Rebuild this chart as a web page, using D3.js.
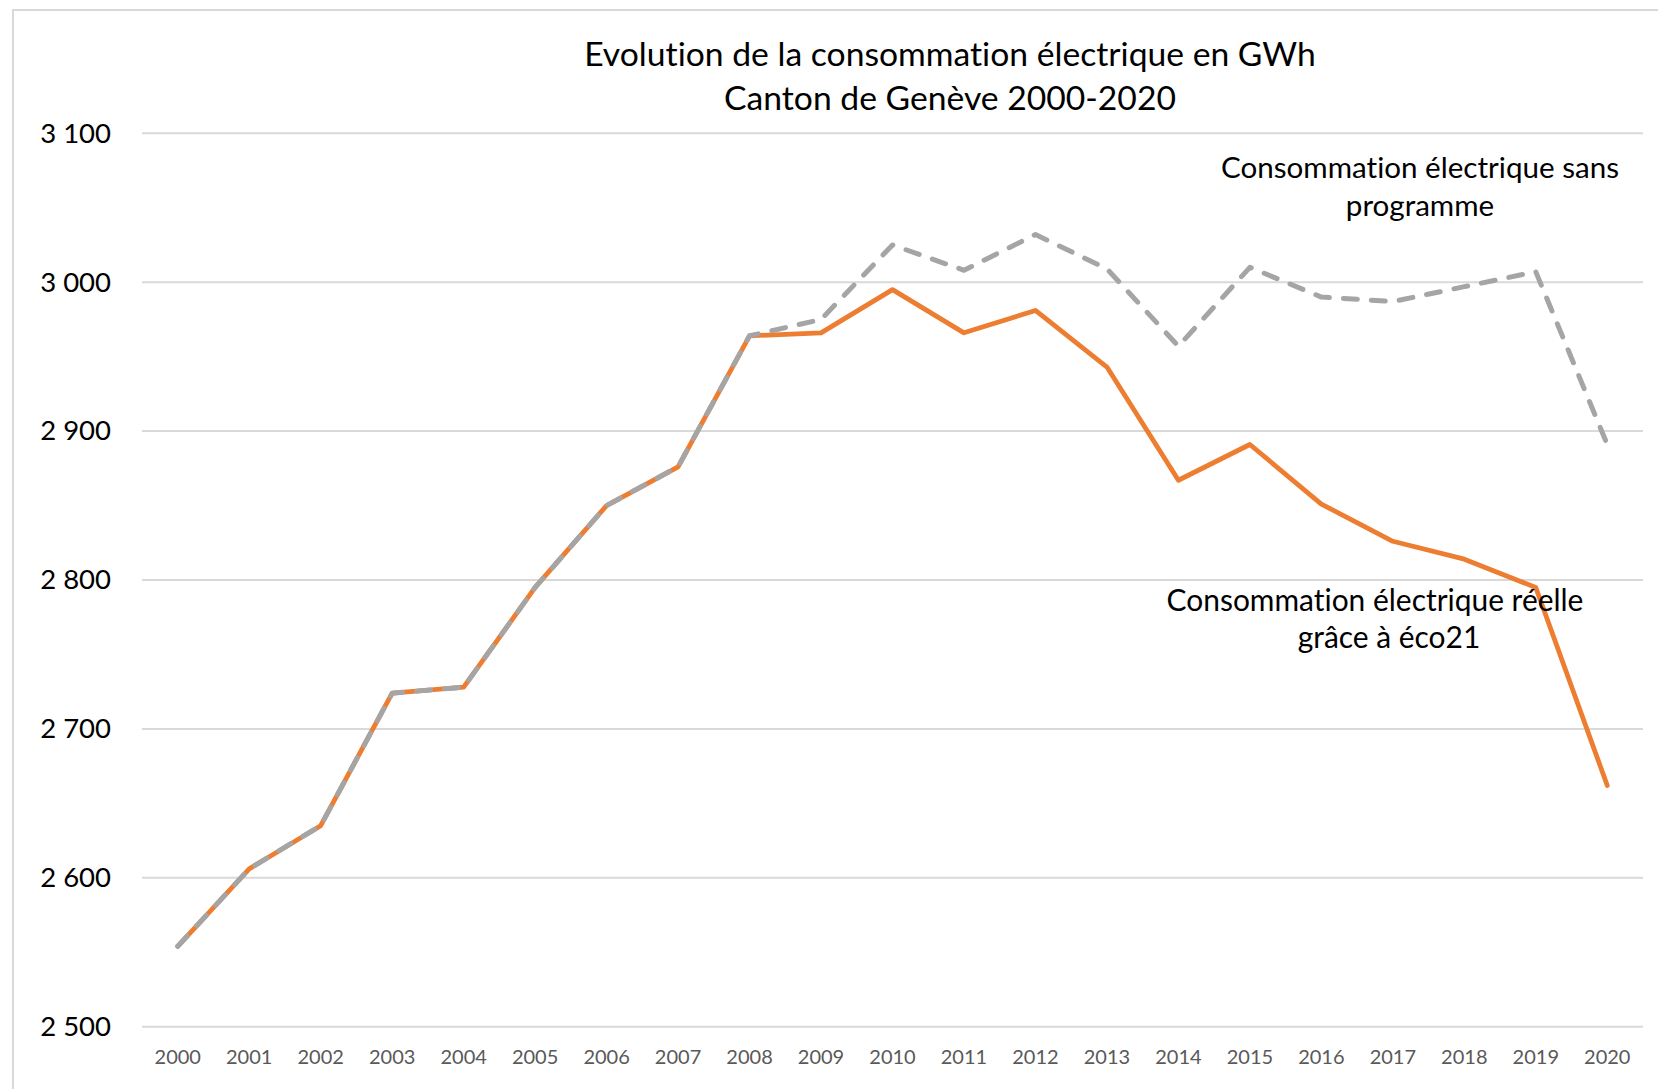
<!DOCTYPE html>
<html>
<head>
<meta charset="utf-8">
<script src="https://cdn.jsdelivr.net/npm/d3@7"></script>
<style>
  html, body { margin: 0; padding: 0; background: #fff; }
  svg { display: block; }
  text { font-family: Lato, "Open Sans", sans-serif; font-variant-ligatures: none; font-feature-settings: "liga" 0, "clig" 0; }
</style>
</head>
<body>
<svg id="chart" width="1658" height="1089"></svg>
<script>
// ---- data ----
const years = ["2000","2001","2002","2003","2004","2005","2006","2007","2008","2009","2010",
               "2011","2012","2013","2014","2015","2016","2017","2018","2019","2020"];
const reelle = [2554, 2606, 2635, 2724, 2728, 2795, 2850, 2876, 2964, 2966, 2995,
                2966, 2981, 2943, 2867, 2891, 2851, 2826, 2814, 2795, 2662];
const sansProgramme = [2554, 2606, 2635, 2724, 2728, 2795, 2850, 2876, 2964, 2975, 3025,
                       3008, 3032, 3009, 2957, 3010, 2990, 2987, 2997, 3007, 2891];
const yTicks = [2500, 2600, 2700, 2800, 2900, 3000, 3100];
const titleLines = ["Evolution de la consommation électrique en GWh", "Canton de Genève 2000-2020"];
const labelSans = ["Consommation électrique sans", "programme"];
const labelReelle = ["Consommation électrique réelle", "grâce à éco21"];

// ---- layout ----
const svg = d3.select("#chart");
const plot = { left: 142, right: 1643, top: 133.3, bottom: 1026.7 };

svg.append("rect")
  .attr("x", 13).attr("y", 10).attr("width", 1700).attr("height", 1200)
  .attr("fill", "#fff").attr("stroke", "#d9d9d9").attr("stroke-width", 2);

const x = d3.scaleBand().domain(years).range([plot.left, plot.right]);
const y = d3.scaleLinear().domain([2500, 3100]).range([plot.bottom, plot.top]);
const cx = d => x(d) + x.bandwidth() / 2;

const fmt = d3.formatLocale({ decimal: ",", thousands: " ", grouping: [3], currency: ["", " CHF"] }).format(",d");

// gridlines
svg.append("g")
  .selectAll("line").data(yTicks).join("line")
  .attr("x1", plot.left).attr("x2", plot.right)
  .attr("y1", d => y(d)).attr("y2", d => y(d))
  .attr("stroke", "#d9d9d9").attr("stroke-width", 2);

// y axis
const yAxis = svg.append("g")
  .attr("transform", `translate(${plot.left},0)`)
  .call(d3.axisLeft(y).tickValues(yTicks).tickFormat(fmt).tickSize(0).tickPadding(31));
yAxis.select(".domain").remove();
yAxis.selectAll("text").attr("fill", "#000").style("font-size", "27.5px");

// x axis
const xAxis = svg.append("g")
  .attr("transform", `translate(0,${plot.bottom})`)
  .call(d3.axisBottom(x).tickSize(0).tickPadding(23));
xAxis.select(".domain").remove();
xAxis.selectAll("text").attr("fill", "#595959").style("font-size", "20px");

// lines
const line = d3.line().x((d, i) => cx(years[i])).y(d => y(d));

svg.append("path")
  .datum(reelle)
  .attr("d", line)
  .attr("fill", "none")
  .attr("stroke", "#ED7D31")
  .attr("stroke-width", 4.8)
  .attr("stroke-linejoin", "round")
  .attr("stroke-linecap", "round");

svg.append("path")
  .datum(sansProgramme)
  .attr("d", line)
  .attr("fill", "none")
  .attr("stroke", "#A5A5A5")
  .attr("stroke-width", 5)
  .attr("stroke-dasharray", "14 14")
  .attr("stroke-linejoin", "round")
  .attr("stroke-linecap", "round");

// text helper: fit font size of first line to target width, apply to all lines
function textBlock(lines, xs, ys, targetWidth) {
  const g = svg.append("g");
  const t = g.selectAll("text").data(lines).join("text")
    .attr("x", (d, i) => xs[i]).attr("y", (d, i) => ys[i])
    .attr("text-anchor", "middle")
    .attr("dominant-baseline", "central")
    .attr("fill", "#000")
    .style("font-size", "100px")
    .text(d => d);
  const w = t.nodes()[0].getComputedTextLength();
  t.style("font-size", (100 * targetWidth / w) + "px");
}

textBlock(titleLines, [950, 950], [53, 97], 732);
textBlock(labelSans, [1420, 1420], [166, 204], 398);
textBlock(labelReelle, [1375, 1389], [599, 636], 417);
</script>
</body>
</html>
